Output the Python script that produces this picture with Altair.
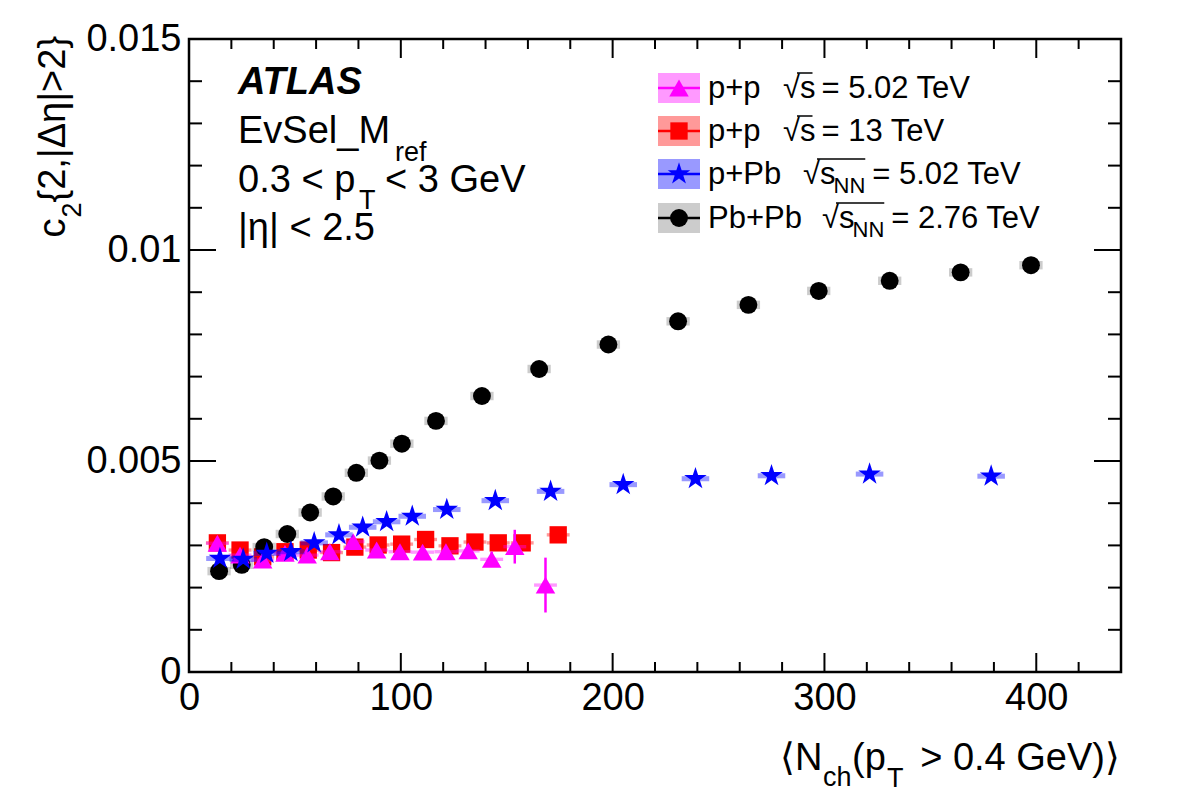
import altair as alt
import pandas as pd

# ---------------- data ----------------
pbpb_n = [14.2, 24.9, 35.5, 46.4, 57.2, 68.1, 79.0, 89.9, 100.5, 116.6, 138.3, 165.3,
          198.0, 230.9, 264.1, 297.3, 330.8, 364.3, 397.5]
pbpb_c = [0.00239, 0.00254, 0.00296, 0.00327, 0.00378, 0.00416, 0.00472, 0.00501,
          0.00541, 0.00595, 0.00654, 0.00718, 0.00776, 0.00831, 0.00870, 0.00903,
          0.00927, 0.00947, 0.00964]
pbpb_sys = [0.00010, 0.00010, 0.00010, 0.00010, 0.00010, 0.00010, 0.00010, 0.00010,
            0.00010, 0.00010, 0.00010, 0.00010, 0.00010, 0.00010, 0.00010, 0.00010,
            0.00010, 0.00010, 0.00010]

ppb_n = [14.6, 25.6, 36.7, 48.1, 59.1, 70.8, 82.0, 93.3, 105.4, 121.7, 144.6, 170.7,
         205.0, 239.1, 275.0, 321.3, 378.7]
ppb_c = [0.00269, 0.00267, 0.00281, 0.00285, 0.00306, 0.00325, 0.00343, 0.00356,
         0.00369, 0.00385, 0.00406, 0.00428, 0.00444, 0.00458, 0.00465, 0.00469, 0.00464]
ppb_sys = [0.00006, 0.00006, 0.00006, 0.00006, 0.00006, 0.00006, 0.00006, 0.00006,
           0.00006, 0.00006, 0.00006, 0.00006, 0.00006, 0.00006, 0.00006, 0.00006, 0.00006]

pp13_n = [13.4, 24.1, 34.8, 45.3, 56.3, 67.3, 78.3, 89.3, 100.4, 111.7, 123.2, 135.0,
          146.0, 157.3, 174.3]
pp13_c = [0.00306, 0.00289, 0.00273, 0.00285, 0.00289, 0.00283, 0.00296, 0.00301,
          0.00303, 0.00314, 0.00299, 0.00308, 0.00306, 0.00306, 0.00325]
pp13_sys = [0.00004, 0.00004, 0.00004, 0.00004, 0.00004, 0.00004, 0.00004, 0.00004,
            0.00004, 0.00004, 0.00004, 0.00004, 0.00004, 0.00004, 0.00004]

pp5_n = [13.4, 24.1, 34.8, 45.3, 55.8, 66.5, 77.5, 88.6, 99.6, 110.3, 121.3, 131.8,
         142.9, 153.8, 168.3]
pp5_c = [0.00305, 0.00277, 0.00265, 0.00281, 0.00277, 0.00285, 0.00309, 0.00289,
         0.00285, 0.00284, 0.00285, 0.00287, 0.00267, 0.00297, 0.00206]
pp5_stat = [0.00003, 0.00003, 0.00003, 0.00003, 0.00004, 0.00004, 0.00005, 0.00006,
            0.00007, 0.00008, 0.00010, 0.00013, 0.00018, 0.00040, 0.00065]
pp5_sys = [0.00004, 0.00004, 0.00004, 0.00004, 0.00004, 0.00004, 0.00004, 0.00004,
           0.00004, 0.00004, 0.00004, 0.00004, 0.00004, 0.00004, 0.00004]

x_major = [0, 100, 200, 300, 400]
x_minor = [20, 40, 60, 80, 120, 140, 160, 180, 220, 240, 260, 280, 320, 340, 360, 380, 420, 440]
y_major = [0, 0.005, 0.01, 0.015]
y_minor = [0.001, 0.002, 0.003, 0.004, 0.006, 0.007, 0.008, 0.009,
           0.011, 0.012, 0.013, 0.014]

# ---------------- styling ----------------
OX, OY = 189, 39          # plot origin in page pixels
W, H = 932, 633           # plot size
FONT = "Liberation Sans"
MAG, RED, BLUE, BLACK = "#FF00FF", "#FF0000", "#0000FF", "#000000"
STAR = ("M0,-1L0.2245,-0.309L0.9511,-0.309L0.3633,0.118L0.5878,0.809L0,0.382"
        "L-0.5878,0.809L-0.3633,0.118L-0.9511,-0.309L-0.2245,-0.309Z")
STAR_SIZE = 560

XS = alt.Scale(domain=[0, 440], nice=False, zero=False)
YS = alt.Scale(domain=[0, 0.015], nice=False, zero=False)
AX = alt.Axis(values=x_major, format="d", title=None, ticks=False, domain=False,
              grid=False, labelFont=FONT, labelFontSize=38, labelPadding=7,
              labelColor="black", labelFlush=False, labelOverlap=False)
AY = alt.Axis(values=y_major, labelExpr="format(datum.value, '.3~f')", title=None,
              ticks=False, domain=False,
              grid=False, labelFont=FONT, labelFontSize=38, labelPadding=8,
              labelColor="black", labelFlush=False, labelOverlap=False)


def X(f):
    return alt.X(f, scale=XS, axis=AX, title=None)


def Y(f):
    return alt.Y(f, scale=YS, axis=AY, title=None)


def frame(n, c, sys=None, stat=None, half=5.0):
    d = pd.DataFrame({"N": n, "c": c})
    if sys is not None:
        d["x1"] = d["N"] - half
        d["x2"] = d["N"] + half
        d["y1"] = d["c"] - pd.Series(sys)
        d["y2"] = d["c"] + pd.Series(sys)
    if stat is not None:
        d["lo"] = d["c"] - pd.Series(stat)
        d["hi"] = d["c"] + pd.Series(stat)
    return d


d_pbpb = frame(pbpb_n, pbpb_c, pbpb_sys, half=5.5)
d_ppb = frame(ppb_n, ppb_c, ppb_sys, half=6.5)
d_pp13 = frame(pp13_n, pp13_c, pp13_sys, half=5.4)
d_pp5 = frame(pp5_n, pp5_c, pp5_sys, pp5_stat, half=5.4)


def boxes(d, color, op):
    return alt.Chart(d).mark_rect(color=color, opacity=op).encode(
        x=X("x1:Q"), x2="x2:Q", y=Y("y1:Q"), y2="y2:Q")


def points(d, shape, color, size):
    return alt.Chart(d).mark_point(shape=shape, filled=True, color=color, size=size,
                                   opacity=1).encode(x=X("N:Q"), y=Y("c:Q"))


one = pd.DataFrame({"k": [0]})


def txt(s, x, y, fs, angle=0, align="left", weight="normal", style="normal"):
    return alt.Chart(one).mark_text(text=s, fontSize=fs, font=FONT, angle=angle, align=align,
                                    baseline="alphabetic", fontWeight=weight,
                                    fontStyle=style, color="black").encode(
        x=alt.value(x - OX), y=alt.value(y - OY))


def hline(x1, x2, y, color, sw):
    return alt.Chart(one).mark_rule(color=color, strokeWidth=sw).encode(
        x=alt.value(x1 - OX), x2=alt.value(x2 - OX), y=alt.value(y - OY))


def lbox(x1, x2, y1, y2, color, op):
    return alt.Chart(one).mark_rect(color=color, opacity=op).encode(
        x=alt.value(x1 - OX), x2=alt.value(x2 - OX),
        y=alt.value(y1 - OY), y2=alt.value(y2 - OY))


def lpoint(x, y, shape, color, size):
    return alt.Chart(one).mark_point(shape=shape, filled=True, color=color, size=size,
                                     opacity=1).encode(
        x=alt.value(x - OX), y=alt.value(y - OY))


layers = []


# ticks pointing inward on all four sides
def xticks(vals, ln):
    d = pd.DataFrame({"v": vals})
    b = alt.Chart(d).mark_rule(color="black", strokeWidth=2).encode(
        x=X("v:Q"), y=alt.value(H), y2=alt.value(H - ln))
    t = alt.Chart(d).mark_rule(color="black", strokeWidth=2).encode(
        x=X("v:Q"), y=alt.value(0), y2=alt.value(ln))
    return [b, t]


def yticks(vals, ln):
    d = pd.DataFrame({"v": vals})
    l = alt.Chart(d).mark_rule(color="black", strokeWidth=2).encode(
        y=Y("v:Q"), x=alt.value(0), x2=alt.value(ln))
    r = alt.Chart(d).mark_rule(color="black", strokeWidth=2).encode(
        y=Y("v:Q"), x=alt.value(W), x2=alt.value(W - ln))
    return [l, r]


layers += xticks(x_major, 19) + xticks(x_minor, 10)
layers += yticks(y_major, 27) + yticks(y_minor, 13)

# data
layers.append(boxes(d_pp13, RED, 0.4))
layers.append(points(d_pp13, "square", RED, 300))
layers.append(boxes(d_pbpb, BLACK, 0.2))
layers.append(points(d_pbpb, "circle", BLACK, 320))
layers.append(boxes(d_pp5, MAG, 0.4))
layers.append(alt.Chart(d_pp5).mark_rule(color=MAG, strokeWidth=2.5).encode(
    x=X("N:Q"), y=Y("lo:Q"), y2="hi:Q"))
layers.append(points(d_pp5, "triangle-up", MAG, 380))
layers.append(boxes(d_ppb, BLUE, 0.4))
layers.append(points(d_ppb, STAR, BLUE, STAR_SIZE))

# y-axis title (rotated, reads bottom->top, ends at top of frame)
FS, SFS = 38, 27
w_c = 0.5 * FS
w_2 = 0.556 * SFS
w_rest = (0.334 + 0.556 + 0.278 + 0.26 + 0.612 + 0.556 + 0.26 + 0.584 + 0.556 + 0.334) * FS
y0 = OY + w_c + w_2 + w_rest
layers.append(txt("c", 65, y0, FS, angle=270))
layers.append(txt("2", 81, y0 - w_c - 1, SFS, angle=270))
layers.append(txt("{2,|\u0394\u03b7|>2}", 65, y0 - w_c - w_2 - 1, FS, angle=270))

# x-axis title
layers.append(txt("\u27e8N", 780, 770, FS))
layers.append(txt("ch", 823, 786, SFS))
layers.append(txt("(p", 852, 770, FS))
layers.append(txt("T", 887, 787, SFS))
layers.append(txt("> 0.4 GeV)\u27e9", 1120, 770, FS, align="right"))

# ATLAS label block
layers.append(txt("ATLAS", 238, 94, FS, weight="bold", style="italic"))
layers.append(txt("EvSel_M", 238, 143, FS))
layers.append(txt("ref", 395, 161, SFS))
layers.append(txt("0.3 < p", 238, 192, FS))
layers.append(txt("T", 359, 209, SFS))
layers.append(txt("< 3 GeV", 385, 192, FS))
layers.append(txt("|\u03b7| < 2.5", 238, 240, FS))

# legend
LFS, LSFS = 31, 22
rows = [
    (88, MAG, "triangle-up", 380, 0.4, "p+p", 783, None),
    (131, RED, "square", 300, 0.4, "p+p", 783, None),
    (174, BLUE, STAR, STAR_SIZE, 0.4, "p+Pb", 803, "NN"),
    (218, BLACK, "circle", 320, 0.2, "Pb+Pb", 822, "NN"),
]
rhs_texts = ["= 5.02 TeV", "= 13 TeV", "= 5.02 TeV", "= 2.76 TeV"]
for (yc, col, shp, sz, op, lab, xs, sub), rhs in zip(rows, rhs_texts):
    layers.append(lbox(658, 700, yc - 15, yc + 15, col, op))
    layers.append(hline(658, 700, yc, col, 2.5))
    layers.append(lpoint(679, yc, shp, col, sz))
    bl = yc + 10
    layers.append(txt(lab, 708, bl, LFS))
    layers.append(txt("\u221as", xs, bl, LFS))
    xs_s = xs + 14
    xend = xs + 14 + 0.5 * LFS
    gap = 7
    if sub:
        layers.append(txt(sub, xend + 1, bl + 9, LSFS))
        xend += 1 + 2 * 0.722 * LSFS
    else:
        gap = 9
    layers.append(hline(xs_s, xend, bl - 25, "black", 1.5))
    layers.append(txt(rhs, xend + gap, bl, LFS))

chart = alt.layer(*layers).properties(
    width=W, height=H,
    padding={"left": OX, "top": OY, "right": 1182 - OX - W, "bottom": 800 - OY - H},
    autosize=alt.AutoSizeParams(type="none"),
    background="white",
).configure_view(stroke="black", strokeWidth=2.5)

chart.save("out.html", embed_options={"renderer": "svg", "actions": False})
